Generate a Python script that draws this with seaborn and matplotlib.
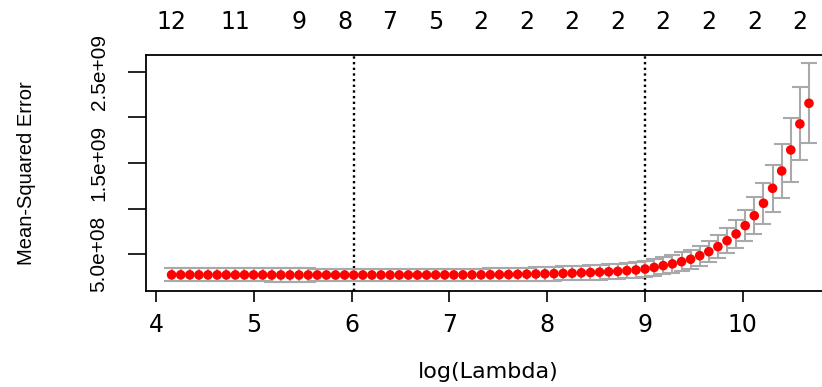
import numpy as np
import pandas as pd
import seaborn as sns
import matplotlib
import matplotlib.pyplot as plt

matplotlib.use('Agg')

# cv.glmnet style curve
log_lambda = [4.160, 4.253, 4.346, 4.439, 4.532, 4.626, 4.719, 4.812, 4.905, 4.998,
              5.091, 5.184, 5.277, 5.370, 5.463, 5.557, 5.650, 5.743, 5.836, 5.929,
              6.022, 6.115, 6.208, 6.301, 6.394, 6.488, 6.581, 6.674, 6.767, 6.860,
              6.953, 7.046, 7.139, 7.232, 7.325, 7.419, 7.512, 7.605, 7.698, 7.791,
              7.884, 7.977, 8.070, 8.163, 8.256, 8.350, 8.443, 8.536, 8.629, 8.722,
              8.815, 8.908, 9.001, 9.094, 9.187, 9.281, 9.374, 9.467, 9.560, 9.653,
              9.746, 9.839, 9.932, 10.025, 10.118, 10.212, 10.305, 10.398, 10.491, 10.584,
              10.677]

# mean cv error, in units of 1e8
cvm_1e8 = [2.74, 2.74, 2.74, 2.73, 2.73, 2.73, 2.73, 2.73, 2.73, 2.73,
           2.73, 2.72, 2.72, 2.72, 2.72, 2.72, 2.72, 2.72, 2.72, 2.72,
           2.71, 2.72, 2.72, 2.72, 2.72, 2.72, 2.72, 2.72, 2.72, 2.73,
           2.73, 2.73, 2.73, 2.74, 2.74, 2.75, 2.76, 2.77, 2.79, 2.81,
           2.83, 2.85, 2.87, 2.89, 2.92, 2.96, 2.99, 3.03, 3.07, 3.12,
           3.20, 3.27, 3.38, 3.55, 3.75, 3.94, 4.18, 4.45, 4.84, 5.28,
           5.83, 6.48, 7.22, 8.13, 9.22, 10.58, 12.22, 14.12, 16.42, 19.27,
           21.53]

# standard error of cv error, in units of 1e8
cvsd_1e8 = [0.72, 0.72, 0.72, 0.72, 0.72, 0.72, 0.72, 0.72, 0.72, 0.72,
            0.72, 0.72, 0.72, 0.72, 0.72, 0.72, 0.68, 0.68, 0.68, 0.68,
            0.68, 0.68, 0.68, 0.68, 0.68, 0.68, 0.68, 0.68, 0.68, 0.68,
            0.68, 0.68, 0.68, 0.68, 0.68, 0.69, 0.70, 0.71, 0.72, 0.73,
            0.74, 0.75, 0.76, 0.77, 0.78, 0.79, 0.80, 0.81, 0.82, 0.83,
            0.85, 0.87, 0.89, 0.92, 0.95, 0.98, 1.02, 1.06, 1.11, 1.17,
            1.25, 1.36, 1.53, 1.72, 2.00, 2.26, 2.56, 2.96, 3.50, 4.00,
            4.38]

nzero_at = [4.160, 4.812, 5.463, 5.929, 6.394, 6.860, 7.325, 7.791, 8.256, 8.722,
            9.187, 9.653, 10.118, 10.584]
nzero_labels = [12, 11, 9, 8, 7, 5, 2, 2, 2, 2, 2, 2, 2, 2]

lambda_min_log = 6.022
lambda_1se_log = 9.001

x_ticks = [4, 5, 6, 7, 8, 9, 10]
y_ticks = [5e8, 1e9, 1.5e9, 2e9, 2.5e9]
y_tick_labels = ['5.0e+08', '', '1.5e+09', '', '2.5e+09']

df = pd.DataFrame({'log_lambda': log_lambda,
                   'mse': np.array(cvm_1e8) * 1e8,
                   'se': np.array(cvsd_1e8) * 1e8})

sns.set_style('white')
plt.rcParams['font.family'] = ['DejaVu Sans']
plt.rcParams['text.color'] = 'black'
plt.rcParams['axes.labelcolor'] = 'black'
plt.rcParams['xtick.color'] = 'black'
plt.rcParams['ytick.color'] = 'black'

fig = plt.figure(figsize=(8.22, 3.87), dpi=100)
ax = fig.add_axes([0.1777, 0.2481, 0.8375, 0.6098])

ax.errorbar(df['log_lambda'], df['mse'], yerr=df['se'], fmt='none',
            ecolor='#A9A9A9', elinewidth=1.5, capsize=5.5, capthick=1.5, zorder=2)
sns.scatterplot(data=df, x='log_lambda', y='mse', color='red', s=48,
                edgecolor='none', ax=ax, zorder=3, legend=False)

for v in [lambda_min_log, lambda_1se_log]:
    ax.axvline(v, color='black', ls=(0, (1, 1.4)), lw=1.7, zorder=1)

ax.set_xlim(3.899, 10.938)
ax.set_ylim(0.097e9, 2.682e9)

ax.set_xticks(x_ticks)
ax.set_xticklabels([str(t) for t in x_ticks], fontsize=17)
ax.set_yticks(y_ticks)
ax.set_yticklabels(y_tick_labels, rotation=90, va='center', ha='right',
                   fontsize=15, family='Liberation Sans')
ax.tick_params(axis='x', direction='out', length=8, width=1.2, pad=8, bottom=True)
ax.tick_params(axis='y', direction='out', length=13, width=1.2, pad=14, left=True)

for s in ax.spines.values():
    s.set_visible(True)
    s.set_color('black')
    s.set_linewidth(1.3)

ax.set_xlabel('log(Lambda)', fontsize=16)
ax.xaxis.set_label_coords(0.497, -0.30)
ax.set_ylabel('Mean-Squared Error', fontsize=14.5, family='Liberation Sans')
ax.yaxis.set_label_coords(-0.16, 0.5)

# number of nonzero coefficients along the top
ax2 = ax.twiny()
ax2.set_xlim(ax.get_xlim())
ax2.set_xticks(nzero_at)
ax2.set_xticklabels([str(n) for n in nzero_labels], fontsize=17)
ax2.tick_params(axis='x', length=0, pad=15)
for s in ax2.spines.values():
    s.set_visible(False)

fig.savefig('out.png', dpi=100)
